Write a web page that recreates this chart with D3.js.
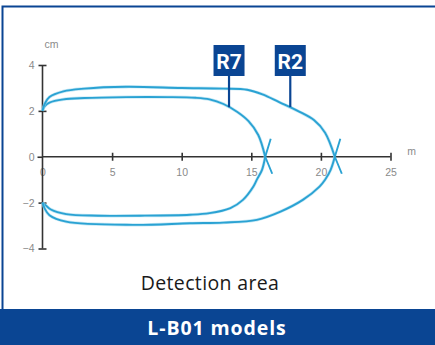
<!DOCTYPE html>
<html><head><meta charset="utf-8">
<script src="https://cdn.jsdelivr.net/npm/d3@7"></script>
<style>html,body{margin:0;padding:0;background:#fff;}svg{display:block;}</style>
</head><body>
<svg id="c" width="435" height="345"></svg>
<script>
// ---- data ----
const xTicks = [0, 5, 10, 15, 20, 25];
const yTicks = [4, 2, 0, -2, -4];
const xUnit = "m";
const yUnit = "cm";
const r7Upper = [[0,2],[0.15,2.2],[0.5,2.36],[1.5,2.5],[3,2.56],[6,2.6],[9,2.6],[11,2.57],[12,2.5],[13,2.3],[14,1.95],[14.8,1.55],[15.5,0.95],[16.0,0]];
const r7Lower = [[16.0,0],[15.77,-0.57],[15.4,-1.0],[15.15,-1.3],[14.4,-1.88],[13.5,-2.24],[12.0,-2.46],[10.6,-2.53],[7,-2.57],[4,-2.57],[1.7,-2.5],[0.6,-2.3],[0.2,-2.1],[0,-2]];
const r2Upper = [[0,2],[0.15,2.3],[0.5,2.6],[1.5,2.85],[3,2.97],[6,3.05],[10,3.0],[13,2.97],[14.7,2.92],[15.8,2.72],[17.0,2.38],[18.4,1.98],[19.5,1.6],[20.3,1.05],[21.0,0]];
const r2Lower = [[21.0,0],[20.7,-0.57],[20.3,-1.0],[19.9,-1.3],[18.7,-1.88],[17.1,-2.39],[15.4,-2.75],[13.0,-2.87],[10.6,-2.9],[6.5,-2.97],[1.7,-2.83],[0.5,-2.55],[0.15,-2.25],[0,-2]];
const crossings = [16.0, 21.0];
const labels = ["R7", "R2"];
const labelX = [13.4, 17.8];
const labelY = [2.16, 2.17];
const title = "Detection area";
const banner = "L-B01 models";

// ---- layout ----
const svg = d3.select("#c");
const W = 435, H = 345;
const navy = "#0a4593";
const curveCol = "#2aa2d3";

svg.append("rect").attr("x",0).attr("y",0).attr("width",W).attr("height",H).attr("fill","#fff");
svg.append("path").attr("d","M2.5,310 V6.5 H435").attr("fill","none").attr("stroke",navy).attr("stroke-width",2);
svg.append("rect").attr("x",0).attr("y",309).attr("width",W).attr("height",36).attr("fill",navy);
svg.append("text").attr("x",217).attr("y",334.5).attr("text-anchor","middle")
  .attr("font-family","'Open Sans', sans-serif").attr("font-weight","bold").attr("font-size",19.5)
  .attr("letter-spacing",0.9).attr("fill","#fff").text(banner);
svg.append("text").attr("x",210).attr("y",289.5).attr("text-anchor","middle")
  .attr("font-family","'Open Sans', sans-serif").attr("font-size",19.5)
  .attr("letter-spacing",0.35).attr("fill","#1a1a1a").text(title);

const x = d3.scaleLinear().domain([0,25]).range([42.5,390.5]);
const y = d3.scaleLinear().domain([-4,4]).range([248.5,65]);

const axCol = "#333";
const tickFont = "Liberation Sans, Arial, sans-serif";
const xAxis = svg.append("g").attr("transform",`translate(0,${y(0)})`)
  .call(d3.axisBottom(x).tickValues(xTicks).tickSize(0).tickPadding(12).tickFormat(d3.format("d")));
xAxis.select(".domain").attr("stroke",axCol).attr("stroke-width",1.6).attr("d",`M${x(0)},0H${x(25)}`);
xAxis.selectAll(".tick text").attr("fill","#8a8a8a").attr("font-size",10.5).attr("font-family",tickFont);
xAxis.selectAll(".tick").filter(d=>d!==0).append("line").attr("y1",-4).attr("y2",4).attr("stroke",axCol).attr("stroke-width",1.6);
const yAxis = svg.append("g").attr("transform",`translate(${x(0)},0)`)
  .call(d3.axisLeft(y).tickValues(yTicks).tickSize(0).tickPadding(8).tickFormat(d3.format("d")));
yAxis.select(".domain").attr("stroke",axCol).attr("stroke-width",1.6).attr("d",`M0,${y(4)}V${y(-4)}`);
yAxis.selectAll(".tick text").attr("fill","#8a8a8a").attr("font-size",10.5).attr("font-family",tickFont);
yAxis.selectAll(".tick").filter(d=>d!==0).append("line").attr("x1",-4).attr("x2",4).attr("stroke",axCol).attr("stroke-width",1.6);
yAxis.selectAll(".tick").filter(d=>d===0).append("line").attr("x1",-5).attr("x2",0).attr("stroke",axCol).attr("stroke-width",1.6);

svg.append("text").attr("x",x(25)+21).attr("y",y(0)-2).attr("text-anchor","middle")
  .attr("fill","#8a8a8a").attr("font-size",10.5).attr("font-family",tickFont).text(xUnit);
svg.append("text").attr("x",x(0)+9).attr("y",y(4)-17).attr("text-anchor","middle")
  .attr("fill","#8a8a8a").attr("font-size",10.5).attr("font-family",tickFont).text(yUnit);

const line = d3.line().x(d=>x(d[0])).y(d=>y(d[1])).curve(d3.curveCatmullRom.alpha(0.5));
[r7Upper, r7Lower, r2Upper, r2Lower].forEach(s=>{
  svg.append("path").attr("d",line(s)).attr("fill","none").attr("stroke","#9fd8ef").attr("stroke-width",3.2).attr("opacity",0.6);
  svg.append("path").attr("d",line(s)).attr("fill","none").attr("stroke",curveCol).attr("stroke-width",1.9);
});
crossings.forEach(c=>{
  const cx = x(c), cy = y(0);
  svg.append("path").attr("d",`M${cx},${cy}L${cx+5.5},${cy-18}M${cx},${cy}L${cx+7},${cy+17}`)
    .attr("fill","none").attr("stroke",curveCol).attr("stroke-width",1.9);
});

labels.forEach((t,i)=>{
  const px = x(labelX[i]);
  svg.append("line").attr("x1",px).attr("x2",px).attr("y1",75).attr("y2",y(labelY[i]))
    .attr("stroke",navy).attr("stroke-width",2.2);
  svg.append("rect").attr("x",px-15.5).attr("y",45).attr("width",31).attr("height",31).attr("fill",navy);
  svg.append("text").attr("x",px).attr("y",68.5).attr("text-anchor","middle")
    .attr("font-family","Roboto, sans-serif").attr("font-weight","bold").attr("font-size",21)
    .attr("fill","#fff").text(t);
});
</script>
</body></html>
